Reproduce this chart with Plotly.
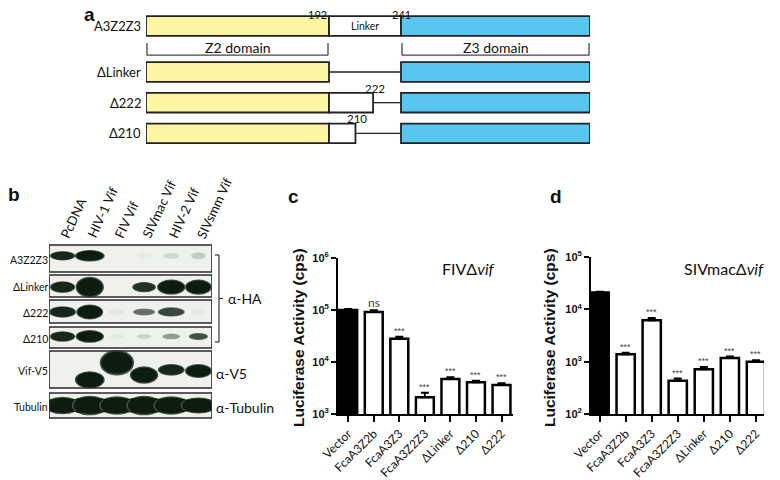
import numpy as np
import plotly.graph_objects as go

# page body has an 8px margin: the figure is drawn at (8, 8)
OX, OY = 8, 8
W, H = 772, 472


def px(x):
    return (x - OX) / W


def py(y):
    return 1 - (y - OY) / H


# ---------------- data ----------------
# panel a: constructs (amino-acid boundaries)
Z2_END = 192
LINKER_END = 241
PROTEIN_END = 431
constructs = ["A3Z2Z3", "ΔLinker", "Δ222", "Δ210"]
linker_kept_end = [241, 192, 222, 210]
end_labels = ["", "", "222", "210"]

# panel b: western blot
lanes = ["PcDNA", "HIV-1 Vif", "FIV Vif", "SIVmac Vif", "HIV-2 Vif", "SIVsmm Vif"]
blot_rows = ["A3Z2Z3", "ΔLinker", "Δ222", "Δ210", "Vif-V5", "Tubulin"]
band_intensity = [
    [0.95, 1.0, 0.0, 0.03, 0.12, 0.18],
    [0.95, 1.0, 0.0, 0.9, 1.0, 1.0],
    [0.95, 1.0, 0.05, 0.6, 0.8, 0.04],
    [0.95, 1.0, 0.04, 0.15, 0.4, 0.75],
    [0.0, 1.0, 1.0, 1.0, 0.95, 1.0],
    [1.0, 1.0, 1.0, 1.0, 1.0, 1.0],
]
band_width = [
    [0.85, 1.0, 0.0, 0.5, 0.55, 0.5],
    [0.85, 0.95, 0.0, 0.8, 0.95, 0.9],
    [0.9, 0.9, 0.5, 0.75, 0.9, 0.5],
    [0.85, 0.95, 0.5, 0.5, 0.6, 0.65],
    [0.0, 1.0, 1.15, 0.95, 0.9, 0.9],
    [1.4, 1.4, 1.4, 1.4, 1.4, 1.4],
]
band_height = [
    [8, 10, 0, 5, 5, 6],
    [10, 18, 0, 9, 13, 13],
    [10, 13, 5, 6, 8, 5],
    [9, 11, 4, 4, 5, 6],
    [0, 15, 22, 15, 10, 12],
    [15, 17, 16, 17, 16, 14],
]
# relative migration inside each strip (0 = top, 1 = bottom)
band_migration = [
    [0.4] * 6,
    [0.55] * 6,
    [0.52] * 6,
    [0.45] * 6,
    [0.5, 0.78, 0.32, 0.65, 0.51, 0.54],
    [0.5] * 6,
]
antibodies = ["α-HA", "α-V5", "α-Tubulin"]

# panels c, d: luciferase activity
categories = ["Vector", "FcaA3Z2b", "FcaA3Z3", "FcaA3Z2Z3", "ΔLinker", "Δ210", "Δ222"]
fiv_values = [1.0e5, 0.92e5, 2.8e4, 2.1e3, 4.7e3, 4.1e3, 3.6e3]
fiv_err = [0.04e5, 0.07e5, 0.25e4, 0.45e3, 0.4e3, 0.25e3, 0.3e3]
fiv_sig = ["", "ns", "***", "***", "***", "***", "***"]
siv_values = [2.1e4, 1.38e3, 6.2e3, 4.3e2, 7.2e2, 1.17e3, 1.0e3]
siv_err = [0.06e4, 0.1e3, 0.6e3, 0.45e2, 0.7e2, 0.8e2, 0.7e2]
siv_sig = ["", "***", "***", "***", "***", "***", "***"]

# ---------------- styling ----------------
TXT = "Lato"
ARIAL = "Liberation Sans"
YELLOW = "#fcf6a2"
BLUE = "#58c6f0"
EDGE = "#222222"

fig = go.Figure()
shapes = []
ann = []

# ---------------- panel a ----------------
def u(aa):
    return float(np.interp(aa, [1, Z2_END, LINKER_END, PROTEIN_END], [0, 183, 255, 444]))

row_pos = [0, 1.5, 2.5, 3.5]
hh = 0.32
for i, name in enumerate(constructs):
    y = row_pos[i]
    shapes.append(dict(type="rect", xref="x", yref="y", x0=u(1), x1=u(Z2_END), y0=y - hh, y1=y + hh,
                       fillcolor=YELLOW, line=dict(color=EDGE, width=1.8)))
    ke = linker_kept_end[i]
    if ke > Z2_END:
        shapes.append(dict(type="rect", xref="x", yref="y", x0=u(Z2_END), x1=u(ke), y0=y - hh, y1=y + hh,
                           fillcolor="white", line=dict(color=EDGE, width=1.8)))
    if ke < LINKER_END:
        shapes.append(dict(type="line", xref="x", yref="y", x0=u(ke), x1=u(LINKER_END), y0=y, y1=y,
                           line=dict(color=EDGE, width=1.3)))
    shapes.append(dict(type="rect", xref="x", yref="y", x0=u(LINKER_END), x1=u(PROTEIN_END), y0=y - hh, y1=y + hh,
                       fillcolor=BLUE, line=dict(color=EDGE, width=1.8)))
    ann.append(dict(xref="x", yref="y", x=u(1), y=y, text=name, showarrow=False, xanchor="right",
                    yanchor="middle", xshift=-3, font=dict(family=TXT, size=13, color="#111")))
    if end_labels[i]:
        ann.append(dict(xref="x", yref="y", x=u(ke), y=y - 0.47, text=end_labels[i], showarrow=False,
                        xanchor="center", yanchor="middle", xshift=2,
                        font=dict(family=TXT, size=11.5, color="#111")))

ann.append(dict(xref="x", yref="y", x=u(Z2_END), y=-0.39, text=str(Z2_END), showarrow=False,
                xanchor="right", yanchor="middle", font=dict(family=TXT, size=11, color="#111")))
ann.append(dict(xref="x", yref="y", x=u(LINKER_END), y=-0.37, text=str(LINKER_END), showarrow=False,
                xanchor="center", yanchor="middle", font=dict(family=TXT, size=11, color="#111")))
ann.append(dict(xref="x", yref="y", x=(u(Z2_END) + u(LINKER_END)) / 2, y=0, text="Linker", showarrow=False,
                xanchor="center", yanchor="middle", font=dict(family=TXT, size=10.5, color="#111")))

for (a0, a1, lab) in [(1, Z2_END, "Z2 domain"), (LINKER_END, PROTEIN_END, "Z3 domain")]:
    x0, x1 = u(a0) + 1, u(a1) - 1
    for xx in (x0, x1):
        shapes.append(dict(type="line", xref="x", yref="y", x0=xx, x1=xx, y0=0.55, y1=0.95,
                           line=dict(color="#444", width=1.3)))
    shapes.append(dict(type="line", xref="x", yref="y", x0=x0, x1=x1, y0=0.95, y1=0.95,
                       line=dict(color="#444", width=1.3)))
    ann.append(dict(xref="x", yref="y", x=(x0 + x1) / 2, y=0.69, text=lab, showarrow=False,
                    xanchor="center", yanchor="middle", font=dict(family=TXT, size=14, color="#111")))

fig.add_trace(go.Scatter(x=[None], y=[None], xaxis="x", yaxis="y", showlegend=False))

# ---------------- panel b ----------------
row_box = [(245, 272), (275, 297), (300, 323), (327, 348), (351, 388), (393, 418)]
BG = np.array([238, 241, 236])
DARK = np.array([12, 28, 14])


def blend(t):
    c = BG + (DARK - BG) * t
    return "rgb(%d,%d,%d)" % tuple(c.astype(int))


for r, name in enumerate(blot_rows):
    top, bot = row_box[r]
    shapes.append(dict(type="rect", xref="x2", yref="y2", x0=0, x1=6, y0=top, y1=bot,
                       fillcolor="rgb(238,241,236)", line=dict(width=0), layer="above"))
    for L in range(6):
        it = band_intensity[r][L]
        if it <= 0:
            continue
        w = min(band_width[r][L], 1.2)
        h = band_height[r][L]
        yc = top + band_migration[r][L] * (bot - top)
        xc = L + 0.5
        shapes.append(dict(type="circle", xref="x2", yref="y2", x0=xc - w * 0.55, x1=xc + w * 0.55,
                           y0=yc - h * 0.58, y1=yc + h * 0.58, fillcolor=blend(it * 0.75),
                           line=dict(width=0), layer="above"))
        shapes.append(dict(type="circle", xref="x2", yref="y2", x0=xc - w * 0.5, x1=xc + w * 0.5,
                           y0=yc - h * 0.5, y1=yc + h * 0.5, fillcolor=blend(it),
                           line=dict(width=0), layer="above"))
        if band_width[r][L] > 1.2:  # continuous band (loading control)
            x_lo = max(xc - 0.5, 0.08)
            x_hi = min(xc + 0.5, 5.92)
            shapes.append(dict(type="rect", xref="x2", yref="y2", x0=x_lo, x1=x_hi,
                               y0=yc - h * 0.42, y1=yc + h * 0.42, fillcolor=blend(it),
                               line=dict(width=0), layer="above"))
    shapes.append(dict(type="rect", xref="x2", yref="y2", x0=0, x1=6, y0=top, y1=bot,
                       fillcolor="rgba(0,0,0,0)", line=dict(color="#2a2a2a", width=1.6), layer="above"))
    ann.append(dict(xref="paper", yref="y2", x=px(49), y=(top + bot) / 2 + 1, text=name, showarrow=False,
                    xanchor="right", yanchor="middle", borderpad=0,
                    font=dict(family=TXT, size=10.5, color="#111")))

for L, name in enumerate(lanes):
    ann.append(dict(xref="x2", yref="paper", x=L + 0.5 - 0.3, y=py(243), text=name, showarrow=False,
                    textangle=-65, xanchor="left", yanchor="bottom", font=dict(family=TXT, size=13, color="#111")))

# bracket for alpha-HA
bx = px(219)
for (yy0, yy1) in [(255, 342)]:
    shapes.append(dict(type="line", xref="paper", yref="y2", x0=bx, x1=bx, y0=yy0, y1=yy1,
                       line=dict(color="#333", width=1.2)))
    shapes.append(dict(type="line", xref="paper", yref="y2", x0=bx - 4 / W, x1=bx, y0=yy0, y1=yy0,
                       line=dict(color="#333", width=1.2)))
    shapes.append(dict(type="line", xref="paper", yref="y2", x0=bx - 4 / W, x1=bx, y0=yy1, y1=yy1,
                       line=dict(color="#333", width=1.2)))
    shapes.append(dict(type="line", xref="paper", yref="y2", x0=bx, x1=bx + 4 / W, y0=(yy0 + yy1) / 2,
                       y1=(yy0 + yy1) / 2, line=dict(color="#333", width=1.2)))
ann.append(dict(xref="paper", yref="y2", x=px(226), y=298.5, text=antibodies[0], showarrow=False,
                xanchor="left", yanchor="middle", font=dict(family=TXT, size=14, color="#111")))
ann.append(dict(xref="paper", yref="y2", x=px(214), y=373, text=antibodies[1], showarrow=False,
                xanchor="left", yanchor="middle", font=dict(family=TXT, size=14, color="#111")))
ann.append(dict(xref="paper", yref="y2", x=px(214), y=407, text=antibodies[2], showarrow=False,
                xanchor="left", yanchor="middle", font=dict(family=TXT, size=14, color="#111")))

fig.add_trace(go.Scatter(x=[None], y=[None], xaxis="x2", yaxis="y2", showlegend=False))

# ---------------- panels c, d ----------------
def bar_panel(vals, errs, sig, xa, ya):
    colors = ["black"] + ["white"] * (len(vals) - 1)
    fig.add_trace(go.Bar(x=categories, y=vals, xaxis=xa, yaxis=ya, width=0.7,
                         marker=dict(color=colors, line=dict(color="black", width=2.5)),
                         error_y=dict(type="data", array=errs, arrayminus=[0] * len(errs), symmetric=False,
                                      color="black", thickness=2, width=4),
                         showlegend=False, hoverinfo="skip"))
    for c, v, e, s in zip(categories, vals, errs, sig):
        if not s:
            continue
        if s == "ns":
            f = dict(family=TXT, size=12, color="#444")
        else:
            f = dict(family=ARIAL, size=9, color="#444")
        ann.append(dict(xref=xa, yref=ya, x=c, y=np.log10(v + e), text=s, showarrow=False,
                        xanchor="center", yanchor="bottom", yshift=-1 if s != "ns" else -2, font=f))


bar_panel(fiv_values, fiv_err, fiv_sig, "x3", "y3")
bar_panel(siv_values, siv_err, siv_sig, "x4", "y4")

ann.append(dict(xref="paper", yref="paper", x=px(468), y=py(268), text="FIVΔ<i>vif</i>", showarrow=False,
                xanchor="center", yanchor="middle", font=dict(family=TXT, size=16, color="#111")))
ann.append(dict(xref="paper", yref="paper", x=px(724), y=py(268), text="SIVmacΔ<i>vif</i>", showarrow=False,
                xanchor="center", yanchor="middle", font=dict(family=TXT, size=16, color="#111")))
for xx in (298, 549):
    ann.append(dict(xref="paper", yref="paper", x=px(xx), y=py(338), text="<b>Luciferase Activity (cps)</b>",
                    showarrow=False, textangle=-90, xanchor="center", yanchor="middle",
                    font=dict(family=ARIAL, size=15.5, color="#111")))

# panel letters
for t, xx, yy in [("a", 89, 15), ("b", 14, 195), ("c", 293, 196), ("d", 556, 196)]:
    ann.append(dict(xref="paper", yref="paper", x=px(xx), y=py(yy), text="<b>%s</b>" % t, showarrow=False,
                    xanchor="center", yanchor="middle", borderpad=0,
                    font=dict(family=ARIAL, size=19, color="#111")))

hidden = dict(visible=False, showgrid=False, zeroline=False, automargin=False)
xt = dict(type="category", showline=True, linecolor="black", linewidth=2, ticks="outside", ticklen=6,
          tickwidth=2, tickcolor="black", tickangle=-45, tickfont=dict(family=TXT, size=12, color="#111"),
          showgrid=False, zeroline=False, automargin=False)
yt = dict(type="log", showline=True, linecolor="black", linewidth=2, ticks="outside", ticklen=5,
          tickwidth=2, tickcolor="black", showgrid=False, zeroline=False, automargin=False,
          tickfont=dict(family=ARIAL, size=11, color="#111"))

fig.update_layout(
    template=go.layout.Template(),
    width=W, height=H, autosize=False,
    margin=dict(l=0, r=0, t=0, b=0, pad=0, autoexpand=False),
    paper_bgcolor="white", plot_bgcolor="rgba(0,0,0,0)",
    showlegend=False,
    xaxis=dict(domain=[px(146), px(590)], range=[0, 444], **hidden),
    yaxis=dict(domain=[py(150), py(10)], range=[4.043, -0.522], **hidden),
    xaxis2=dict(domain=[px(49), px(212)], range=[0, 6], anchor="y2", **hidden),
    yaxis2=dict(domain=[py(420), py(244)], range=[420, 244], anchor="x2", **hidden),
    xaxis3=dict(domain=[px(338), px(513)], range=[-0.4, 6.45], anchor="y3", **xt),
    yaxis3=dict(domain=[py(414), py(258)], range=[3, 6], anchor="x3",
                tickvals=[1e3, 1e4, 1e5, 1e6],
                ticktext=["<b>10<sup>3</sup></b>", "<b>10<sup>4</sup></b>", "<b>10<sup>5</sup></b>",
                          "<b>10<sup>6</sup></b>"], **yt),
    xaxis4=dict(domain=[px(591), px(764)], range=[-0.33, 6.31], anchor="y4", **xt),
    yaxis4=dict(domain=[py(414), py(257)], range=[2, 5], anchor="x4",
                tickvals=[1e2, 1e3, 1e4, 1e5],
                ticktext=["<b>10<sup>2</sup></b>", "<b>10<sup>3</sup></b>", "<b>10<sup>4</sup></b>",
                          "<b>10<sup>5</sup></b>"], **yt),
    shapes=shapes,
    annotations=ann,
)

fig.write_html("out.html")
